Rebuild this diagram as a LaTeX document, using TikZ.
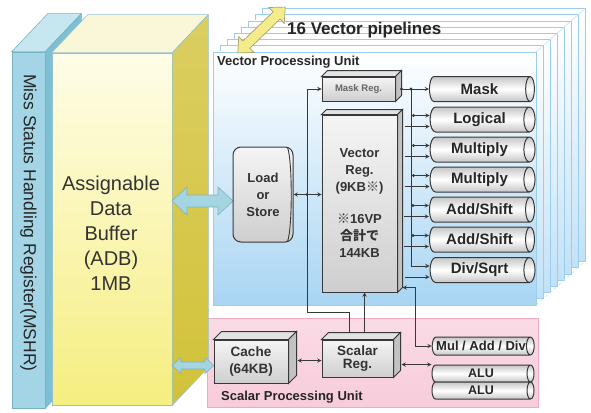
\documentclass[tikz,border=0pt]{standalone}
\usepackage{fontspec}
\setmainfont{Liberation Sans}
\newfontfamily\cjk{Noto Sans CJK JP}
\usetikzlibrary{shapes.geometric,calc}

\definecolor{mshrblue}{HTML}{A3D5E6}
\definecolor{mshrside}{HTML}{7DBFD3}
\definecolor{mshrtop}{HTML}{C6E7F0}
\definecolor{mshrline}{HTML}{7AB2C4}
\definecolor{adblight}{HTML}{FFFDE8}
\definecolor{adbyellow}{HTML}{F5EE80}
\definecolor{adbside}{HTML}{D2C23A}
\definecolor{adbtop}{HTML}{FAF7D8}
\definecolor{vpublue}{HTML}{A8D5F3}
\definecolor{vpuline}{HTML}{9ACDEE}
\definecolor{spupink}{HTML}{F8CCDA}
\definecolor{spuline}{HTML}{EEAAC0}
\definecolor{arrowblue}{HTML}{A5D5E0}
\definecolor{arrowline}{HTML}{7FB3C2}
\definecolor{arrowyellow}{HTML}{F4EC8A}
\definecolor{arrowyline}{HTML}{A8A070}
\definecolor{boxline}{HTML}{383838}

% top and side face of a block drawn as a node
\newcommand\boxfaces[4]{%
  \draw[#3] (#1.north west) -- ++#2 -- ($(#1.north east)+#2$) -- (#1.north east) -- cycle;
  \draw[#4] (#1.north east) -- ++#2 -- ($(#1.south east)+#2$) -- (#1.south east) -- cycle;}
% fat double arrow: style, centre, angle, length, head width, shaft width, head length
\newcommand\fatarrow[7]{%
  \draw[#1, shift={#2}, rotate=#3] ({-#4/2},0) -- ({-#4/2+#7},{-#5/2}) -- ({-#4/2+#7},{-#6/2})
    -- ({#4/2-#7},{-#6/2}) -- ({#4/2-#7},{-#5/2}) -- ({#4/2},0) -- ({#4/2-#7},{#5/2})
    -- ({#4/2-#7},{#6/2}) -- ({-#4/2+#7},{#6/2}) -- ({-#4/2+#7},{#5/2}) -- cycle;}

\tikzset{
  layer/.style={draw=vpuline, line width=0.8pt, top color=white, bottom color=vpublue!70},
  vpu/.style={draw=vpuline, line width=0.8pt, top color=white, bottom color=vpublue},
  spu/.style={draw=spuline, line width=0.8pt, top color=spupink!70, bottom color=spupink},
  mshr front/.style={draw=mshrline, fill=mshrblue, line width=0.6pt, minimum width=33, minimum height=356},
  mshr top/.style={draw=mshrline, fill=mshrtop, line width=0.6pt},
  mshr side/.style={draw=mshrline, fill=mshrside, line width=0.6pt},
  adb front/.style={draw=mshrline!80, line width=0.6pt, top color=adblight, bottom color=adbyellow, minimum width=120, minimum height=352},
  adb top/.style={draw=mshrline!80, fill=adbtop, line width=0.6pt},
  adb side/.style={draw=mshrline!80, line width=0.6pt, top color=adbside!80, bottom color=adbside},
  blue arrow/.style={draw=arrowline, fill=arrowblue, line width=0.6pt},
  yellow arrow/.style={draw=arrowyline, fill=arrowyellow, line width=0.7pt},
  reg box/.style={draw=boxline, line width=1pt, top color=gray!8, bottom color=gray!38, text=black!80, align=center, inner sep=0},
  reg top/.style={draw=boxline, line width=1pt, fill=gray!22},
  reg side/.style={draw=boxline, line width=1pt, fill=gray!48},
  pipe/.style={cylinder, draw=boxline, line width=1pt, aspect=0.8, minimum height=105, minimum width=25,
    top color=gray!45, bottom color=gray!45, middle color=white, text=black!85, inner sep=0,
    font=\fontsize{15}{16}\selectfont\bfseries},
  small pipe/.style={pipe, minimum height=102, minimum width=17, font=\fontsize{12.5}{14}\selectfont\bfseries},
  link/.style={draw=boxline, line width=0.9pt},
  dot/.style={circle, fill=boxline, inner sep=0, minimum size=3.2},
  unit label/.style={font=\fontsize{13}{15}\selectfont\bfseries, text=black!85, inner sep=0},
}

\begin{document}
\begin{tikzpicture}[x=1pt, y=-1pt]
  \useasboundingbox (0,0) rectangle (591,412);

  % 16 vector pipelines
  \draw[layer] (262,8.6) rectangle (585,261.6);
  \draw[layer] (255,14.8) rectangle (578,267.8);
  \draw[layer] (248,21) rectangle (571,274);
  \draw[layer] (241,27.2) rectangle (564,280.2);
  \draw[layer] (234,33.4) rectangle (557,286.4);
  \draw[layer] (227,39.6) rectangle (550,292.6);
  \draw[layer] (220,45.8) rectangle (543,298.8);
  \draw[vpu] (213,52) rectangle (536,305);
  \draw[vpuline!60, line width=0.6pt] (536,52) -- (585,8.6);
  \draw[vpuline!60, line width=0.6pt, dashed] (536,305) -- (585,261.6);
  \draw[spu] (207,318) rectangle (538,407);

  \node[font=\fontsize{17}{20}\selectfont\bfseries, text=black!85, anchor=west, inner sep=0] (vpipes) at (287,30) {16 Vector pipelines};
  \node[unit label, anchor=west] (vpulabel) at (217,62) {Vector Processing Unit};
  \node[unit label, anchor=west] (spulabel) at (221,397) {Scalar Processing Unit};
  \fatarrow{yellow arrow}{(261.5,30)}{44}{66}{22}{10}{12}

  % MSHR and ADB
  \node[mshr front] (mshr) at (28.5,230) {};
  \boxfaces{mshr}{(36,-38)}{mshr top}{mshr side}
  \node[rotate=-90, font=\fontsize{17.5}{20}\selectfont, text=black!85] (mshrtext) at (28.5,223) {Miss Status Handling Register(MSHR)};
  \node[adb front] (adb) at (112,229) {};
  \boxfaces{adb}{(36,-38)}{adb top}{adb side}
  \node[align=center, font=\fontsize{20}{25}\selectfont, text=black!80] (adbtext) at (111,233)
    {Assignable\\Data\\Buffer\\(ADB)\\1MB};

  \fatarrow{blue arrow}{(202.5,201)}{0}{61}{28}{12}{15}
  \fatarrow{blue arrow}{(193,365.5)}{0}{42}{16}{7}{9}

  % vector unit
  \node[reg box, rounded corners=8, minimum width=60, minimum height=95,
    font=\fontsize{13}{17}\selectfont\bfseries] (ls) at (263,194.5) {Load\\or\\Store};
  \draw[link] ($(ls.north east)+(-6,1)$) .. controls ($(ls.north east)+(-1,14)$) and ($(ls.south east)+(-1,-14)$) .. ($(ls.south east)+(-6,-1)$);
  \node[reg box, minimum width=73, minimum height=24, font=\fontsize{9.5}{11}\selectfont\bfseries, text=black!60] (maskreg) at (358.5,89) {Mask Reg.};
  \boxfaces{maskreg}{(6,-6)}{reg top}{reg side}
  \node[reg box, minimum width=75, minimum height=177, font=\fontsize{13}{17}\selectfont\bfseries] (vreg) at (359.5,203.5)
    {Vector\\Reg.\\(9KB{\cjk ※})\\[15pt]{\cjk ※}16VP\\{\cjk 合計で}\\144KB};
  \boxfaces{vreg}{(5,-5)}{reg top}{reg side}

  \node[pipe] (mask) at (479.5,89) {Mask};
  \node[pipe] (logic) at (479.5,119.5) {Logical};
  \node[pipe] (mul1) at (479.5,149.5) {Multiply};
  \node[pipe] (mul2) at (479.5,179.5) {Multiply};
  \node[pipe] (add1) at (479.5,209.5) {Add/Shift};
  \node[pipe] (add2) at (479.5,239.5) {Add/Shift};
  \node[pipe] (divsqrt) at (479.5,270) {Div/Sqrt};

  % scalar unit
  \node[reg box, minimum width=74, minimum height=43, font=\fontsize{13.5}{17}\selectfont\bfseries] (cache) at (251,361.5) {Cache\\(64KB)};
  \boxfaces{cache}{(8,-8)}{reg top}{reg side}
  \node[reg box, minimum width=71, minimum height=37, font=\fontsize{13.5}{13}\selectfont\bfseries] (sreg) at (357.5,358.5) {Scalar\\Reg.};
  \boxfaces{sreg}{(7,-7)}{reg top}{reg side}
  \node[small pipe, minimum width=18, font=\fontsize{13}{14}\selectfont\bfseries] (muladd) at (481,346) {Mul / Add / Div};
  \node[small pipe] (alu1) at (481,373.5) {ALU};
  \node[small pipe] (alu2) at (481,390.5) {ALU};

  % connections
  \coordinate (maskbus) at (307,312);
  \coordinate (pbus) at (411,89);
  \coordinate (sbus) at (415,0);
  \coordinate (sregtopa) at ($(sreg.north west)+(28,-7)$);
  \coordinate (sregtopb) at ($(sreg.north west)+(43,-7)$);
  \coordinate (cacheside) at ($(cache.east)+(9,-1)$);
  \coordinate (sregside) at ($(sreg.east)+(8,6)$);
  \coordinate (vregside) at ($(vreg.south east)+(5,-5)$);
  \coordinate (maskside) at ($(maskreg.east)+(6,0)$);

  \draw[link, stealth-stealth] (ls.east) -- (ls.east -| vreg.west);
  \draw[link, -stealth] (sregtopa) |- (maskbus) |- (maskreg.west);
  \node[dot] (lsdot) at (ls.east -| maskbus) {};
  \draw[link, -stealth] (sregtopb) -- (sregtopb |- vreg.south);
  \draw[link, stealth-stealth] (cacheside) -- (cacheside -| sreg.west);
  \draw[link, stealth-stealth] (sregside) -- (sregside -| alu1.west);
  \draw[link, stealth-stealth] (vregside) -- (vregside -| sbus) |- (muladd.west);

  \draw[link, -stealth] (maskside) -- (mask.west);
  \node[dot] (maskdot) at (maskside) {};
  \draw[link, -stealth] (pbus) |- ($(divsqrt.west)+(0,-4)$);
  \node[dot] (pbusdot) at (pbus) {};
  \draw[link, -stealth] ($(logic.west)+(-16,-4)$) -- ($(logic.west)+(0,-4)$);
  \draw[link, -stealth] ($(mul1.west)+(-16,-4)$) -- ($(mul1.west)+(0,-4)$);
  \draw[link, -stealth] ($(mul2.west)+(-16,-4)$) -- ($(mul2.west)+(0,-4)$);
  \draw[link, -stealth] ($(add1.west)+(-16,-4)$) -- ($(add1.west)+(0,-4)$);
  \draw[link, -stealth] ($(add2.west)+(-16,-4)$) -- ($(add2.west)+(0,-4)$);
  \draw[link, -stealth] ($(logic.west)+(-25,7)$) -- ($(logic.west)+(0,7)$);
  \draw[link, -stealth] ($(mul1.west)+(-25,7)$) -- ($(mul1.west)+(0,7)$);
  \draw[link, -stealth] ($(mul2.west)+(-25,7)$) -- ($(mul2.west)+(0,7)$);
  \draw[link, -stealth] ($(add1.west)+(-25,7)$) -- ($(add1.west)+(0,7)$);
  \draw[link, -stealth] ($(add2.west)+(-25,7)$) -- ($(add2.west)+(0,7)$);
  \draw[link, -stealth] ($(divsqrt.west)+(-25,7)$) -- ($(divsqrt.west)+(0,7)$);
  \node[dot] (logicdot) at ($(logic.west)+(-16,-4)$) {};
  \node[dot] (mul1dot) at ($(mul1.west)+(-16,-4)$) {};
  \node[dot] (mul2dot) at ($(mul2.west)+(-16,-4)$) {};
  \node[dot] (add1dot) at ($(add1.west)+(-16,-4)$) {};
  \node[dot] (add2dot) at ($(add2.west)+(-16,-4)$) {};
\end{tikzpicture}
\end{document}
